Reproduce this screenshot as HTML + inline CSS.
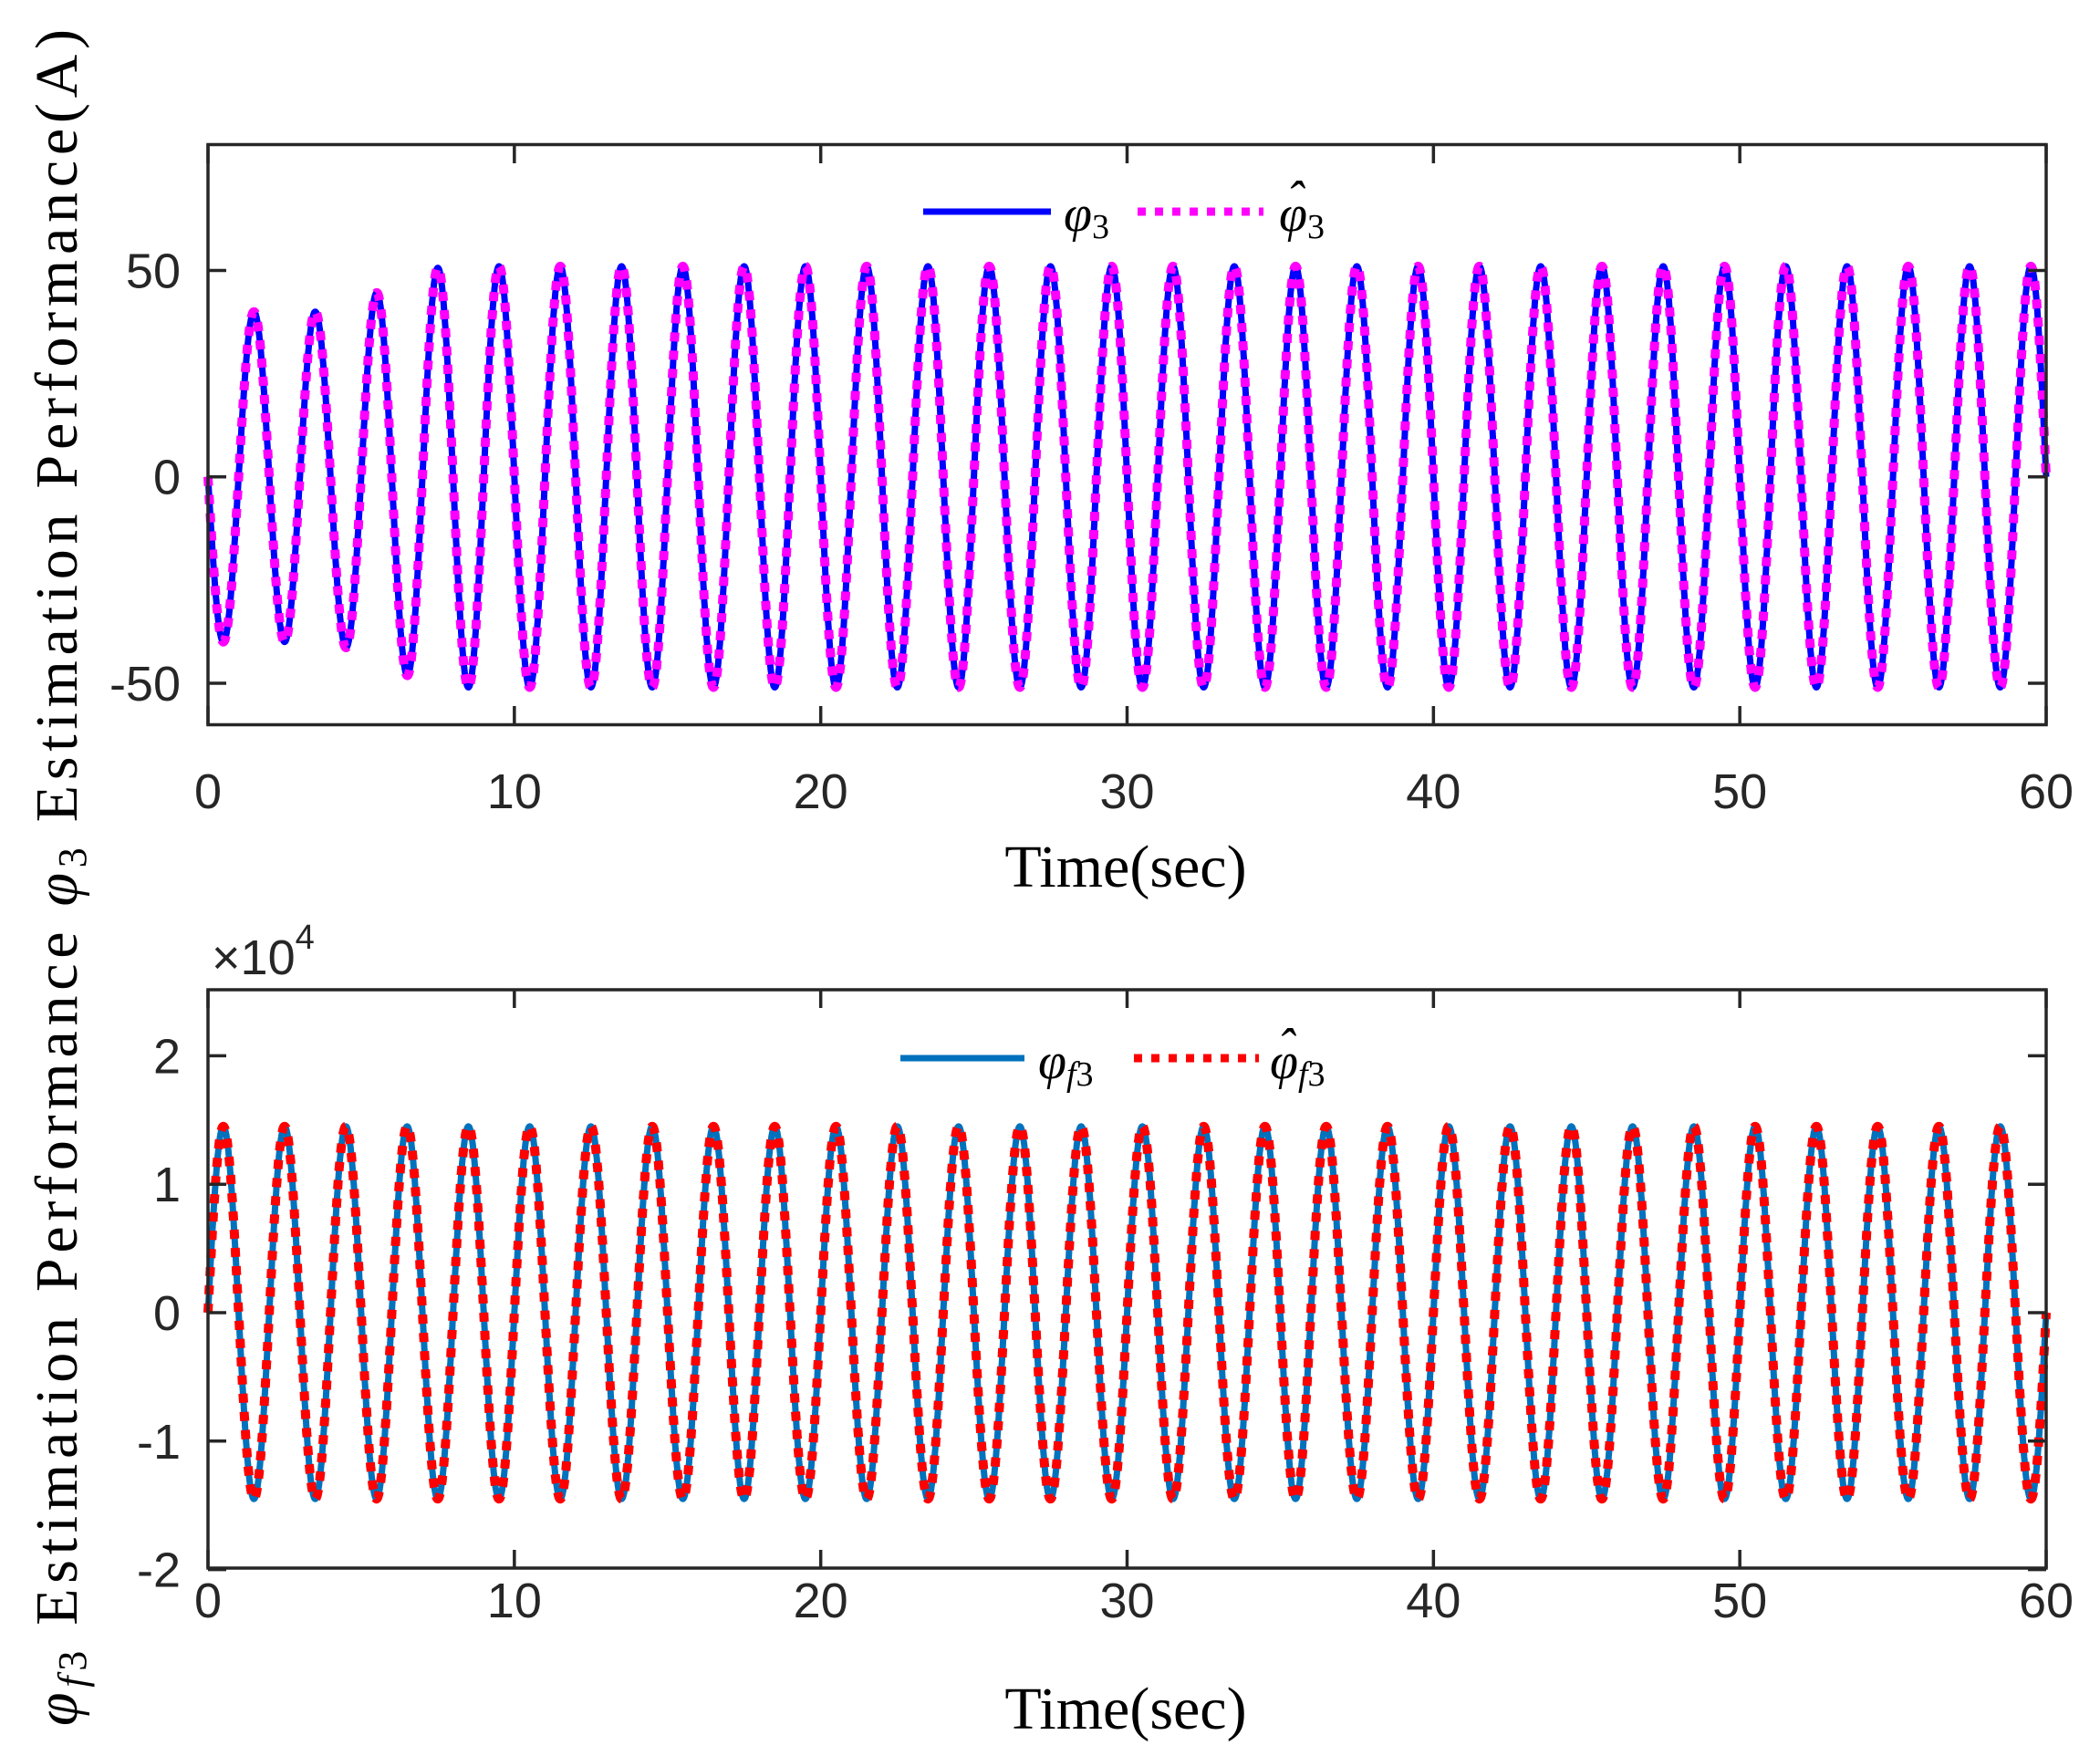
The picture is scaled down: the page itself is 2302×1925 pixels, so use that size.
<!DOCTYPE html>
<html><head><meta charset="utf-8"><style>
html,body{margin:0;padding:0;background:#fff;}
svg{display:block}
.tk{font-family:"Liberation Sans",Arial,sans-serif;font-size:54px;fill:#262626}
.lab{font-family:"Liberation Serif",serif;font-size:66px;fill:#000}
.mi{font-family:"Liberation Serif",serif;font-style:italic;font-size:56px;fill:#000}
</style></head><body>
<svg id="s" width="2302" height="1925" viewBox="0 0 2302 1925" xmlns="http://www.w3.org/2000/svg">
<rect width="2302" height="1925" fill="#fff"/>
<g id="series"></g>
<g fill="none" stroke="#262626" stroke-width="3.5">
<rect x="228" y="158.5" width="2015" height="636"/>
<rect x="228" y="1085" width="2015" height="634"/>
</g>
<g id="ticks" stroke="#262626" stroke-width="3.5"></g>
<g id="tl" class="tk"></g>
<line x1="1012" y1="232" x2="1152" y2="232" stroke="#0000FF" stroke-width="7"/>
<text class="mi" x="1166" y="253">φ<tspan font-style="normal" font-size="38" dy="8">3</tspan></text>
<line x1="1247" y1="232" x2="1385" y2="232" stroke="#FF00FF" stroke-width="9" stroke-dasharray="9 10"/>
<text class="mi" x="1402" y="253">φ<tspan font-style="normal" font-size="38" dy="8">3</tspan></text>
<text class="mi" x="1410" y="237" font-style="normal" font-size="50">ˆ</text>
<line x1="987" y1="1160" x2="1123" y2="1160" stroke="#0072BD" stroke-width="7"/>
<text class="mi" x="1138" y="1182">φ<tspan font-size="38" dy="8">f</tspan><tspan font-style="normal" font-size="38">3</tspan></text>
<line x1="1243" y1="1160" x2="1380" y2="1160" stroke="#FF0000" stroke-width="9" stroke-dasharray="9 10"/>
<text class="mi" x="1392" y="1182">φ<tspan font-size="38" dy="8">f</tspan><tspan font-style="normal" font-size="38">3</tspan></text>
<text class="mi" x="1400" y="1166" font-style="normal" font-size="50">ˆ</text>
<text class="lab" x="1234" y="972" text-anchor="middle" font-size="70">Time(sec)</text>
<text class="lab" x="1234" y="1895" text-anchor="middle" font-size="70">Time(sec)</text>
<text class="lab" transform="translate(84,962) rotate(-90)" text-anchor="middle" textLength="1860" lengthAdjust="spacing"><tspan font-style="italic">φ</tspan><tspan font-size="44" dy="10" font-style="italic">f</tspan><tspan font-size="44">3</tspan><tspan dy="-10"> Estimation  Performance  </tspan><tspan font-style="italic">φ</tspan><tspan font-size="44" dy="10">3</tspan><tspan dy="-10"> Estimation  Performance(A)</tspan></text>
<text class="tk" x="232" y="1068">×10<tspan font-size="38" dy="-28">4</tspan></text>
</svg>
<script>
var NS="http://www.w3.org/2000/svg",s=document.getElementById('series');
var X0=228,W=2015;
function P(f,y0,sc){var d="";for(var i=0;i<=6000;i++){var t=i*0.01;var x=X0+t*W/60,y=y0-f(t)*sc;d+=(i?"L":"M")+x.toFixed(1)+" "+y.toFixed(1);}return d;}
function add(d,c,w,da){var p=document.createElementNS(NS,'path');p.setAttribute('d',d);p.setAttribute('fill','none');p.setAttribute('stroke',c);p.setAttribute('stroke-width',w);p.setAttribute('stroke-linejoin','round');if(da)p.setAttribute('stroke-dasharray',da);s.appendChild(p);}
function A(t){var u=Math.min(1,Math.max(0,(t-3.5)/4.5));u=u*u*(3-2*u);return 40+11*u;}
var f1=function(t){return -A(t)*Math.sin(Math.PI*t);};
var f2=function(t){return 1.45*Math.sin(Math.PI*t);};
add(P(f1,522.7,4.525),"#0000FF",7);
add(P(f1,522.7,4.525),"#FF00FF",10,"10 10");
add(P(f2,1439,140.8),"#0072BD",7);
add(P(f2,1439,140.8),"#FF0000",10,"10 10");
var tk=document.getElementById('ticks'),tl=document.getElementById('tl');
function ln(x1,y1,x2,y2){var l=document.createElementNS(NS,'line');l.setAttribute('x1',x1);l.setAttribute('y1',y1);l.setAttribute('x2',x2);l.setAttribute('y2',y2);tk.appendChild(l);}
function tx(x,y,str,a){var t=document.createElementNS(NS,'text');t.setAttribute('x',x);t.setAttribute('y',y);t.setAttribute('text-anchor',a);t.textContent=str;tl.appendChild(t);}
for(var k=0;k<=6;k++){var x=X0+k*W/6;
 ln(x,158.5,x,179);ln(x,794.5,x,774);ln(x,1085,x,1105);ln(x,1719,x,1699);
 tx(x,886,String(k*10),'middle');tx(x,1773,String(k*10),'middle');}
[[50,296.5],[0,522.7],[-50,749]].forEach(function(v){ln(228,v[1],248,v[1]);ln(2243,v[1],2223,v[1]);tx(198,v[1]+19,String(v[0]),'end');});
[2,1,0,-1,-2].forEach(function(v){var y=1439-v*140.8;ln(228,y,248,y);ln(2243,y,2223,y);tx(198,y+19,String(v),'end');});
</script>
</body></html>
